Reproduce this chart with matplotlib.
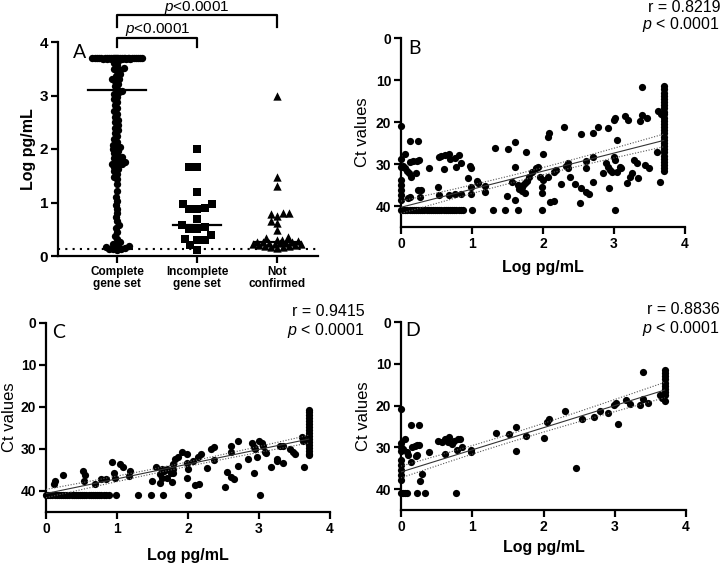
import numpy as np
import matplotlib
matplotlib.use('Agg')
import matplotlib.pyplot as plt

plt.rcParams['font.family'] = ['Liberation Sans', 'DejaVu Sans']
plt.rcParams['axes.labelweight'] = 'bold'
plt.rcParams['mathtext.fontset'] = 'custom'
plt.rcParams['mathtext.it'] = 'Liberation Sans:italic'
plt.rcParams['mathtext.rm'] = 'Liberation Sans'

# ---------------- panel A: Log pg/mL by gene set group ----------------
groups = ['Complete\ngene set', 'Incomplete\ngene set', 'Not\nconfirmed']
complete_set = [3.7, 3.7, 3.7, 3.7, 3.7, 3.7, 3.7, 3.7, 3.7, 3.7, 3.7, 3.7,
                3.7, 3.7, 3.7, 3.7, 3.7, 3.7, 3.7, 3.7, 3.7, 3.7, 3.7, 3.7,
                3.69, 3.69, 3.69, 3.69, 3.71, 3.71, 3.71, 3.68, 3.68, 3.68,
                3.64, 3.6, 3.57, 3.52, 3.5, 3.48, 3.45, 3.4, 3.36, 3.31,
                3.3, 3.27, 3.22, 3.18, 3.12, 3.08, 3.05, 3.03, 2.98, 2.93,
                2.88, 2.82, 2.76, 2.71, 2.66, 2.6, 2.55, 2.5, 2.45, 2.4,
                2.35, 2.3, 2.24, 2.19, 2.14, 2.08, 2.05, 2.03, 2.0, 1.97,
                1.93, 1.88, 1.85, 1.83, 1.8, 1.76, 1.75, 1.72, 1.72, 1.7,
                1.66, 1.62, 1.58, 1.53, 1.48, 1.44,
                1.34, 1.22, 1.1, 1.03, 0.95, 0.88, 0.8, 0.72, 0.65, 0.58,
                0.52, 0.45, 0.38, 0.32,
                0.26, 0.22, 0.2, 0.18, 0.17, 0.15, 0.14, 0.13, 0.13, 0.12]
incomplete_set = [2.0, 1.66, 1.66, 1.2, 0.98, 0.98, 0.88, 0.9, 0.88, 0.7,
                  0.58, 0.55, 0.5, 0.5, 0.4, 0.32, 0.3, 0.3, 0.2, 0.12]
not_confirmed = [3.0, 1.47, 1.3, 0.8, 0.8, 0.78, 0.75, 0.65, 0.62, 0.48,
                 0.35, 0.33, 0.3, 0.3, 0.28, 0.27, 0.27, 0.26, 0.25, 0.25,
                 0.24, 0.23, 0.22, 0.22, 0.2, 0.2, 0.19, 0.18, 0.17, 0.16, 0.15]
medians = [3.1, 0.58, 0.27]
detection_limit = 0.13
p_label = '$p$<0.0001'

# ---------------- panel B: all samples ----------------
b_x = [0, 0.13, 0.24, 0, 0.06, 0.13, 0.17, 0.22, 0.25,
       0, 0.03, 0.06, 0.08, 0.11, 0.14, 0.21, 0.39,
       0, 0, 0, 0, 0, 0.13, 0.1, 0.24, 0.28, 0.27,
       0.53, 0.57, 0.62, 0.67, 0.69, 0.76, 0.82,
       0.61, 0.77, 0.85, 0.97, 0.99, 0.94, 1.07, 1.09, 1.18, 1.19,
       0.52, 0.53, 0.67, 0.76, 0.85, 0.99, 0.99,
       1.32, 1.51, 1.61, 1.76, 1.61, 1.56, 1.49, 1.61,
       1.65, 1.7, 1.72, 1.75, 1.78, 1.8, 1.85, 1.9, 1.66, 1.7, 1.75,
       1.93, 1.98, 1.98, 2.0,
       2.07, 2.08, 2.3, 2.53, 2.71, 2.78, 2.92, 3.0, 3.01, 3.04,
       3.16, 3.2, 3.37, 3.4, 3.47, 3.4, 3.62, 3.66, 3.6, 3.65,
       1.96, 2.0, 2.07, 2.15, 2.18, 2.26, 2.33, 2.35, 2.38, 2.35,
       2.45, 2.54, 2.6, 2.65, 2.1, 2.15, 2.52, 2.6, 2.6, 2.71, 2.71,
       2.85, 2.89, 2.92, 2.94, 2.97, 2.93, 3.0, 3.02, 3.04, 3.08, 3.1,
       3.18, 3.23, 3.25, 3.28, 3.33, 3.34, 3.44, 3.49]
b_ct = [21, 24.5, 24.5, 28.7, 27.7, 29.5, 29.3, 29.2, 29,
        30.6, 30.4, 31, 31.6, 32.2, 33.2, 32.1, 30.9,
        33.8, 35, 36.2, 37.4, 38.6, 37.8, 38.2, 36.2, 36.2, 37.8,
        28.3, 28.1, 27.9, 27.6, 28.7, 28.5, 27.9,
        31.3, 30.6, 29.8, 30.4, 30.9, 33.3, 34.1, 34.6, 35.2, 36.6,
        35.4, 37.4, 37.4, 37.1, 37.1, 37.1, 35.4,
        26.3, 26.5, 24.8, 27.1, 30.6, 34.2, 37.6, 38.6,
        35, 35.5, 35, 34.5, 34, 33, 32, 31, 36, 36.5, 37,
        30.8, 35.5, 37, 27.5,
        23.5, 22.7, 21.1, 22.9, 22.5, 21.1, 21.5, 19.5, 19.1, 24.3,
        18.6, 19.5, 19.7, 18.4, 19.1, 11.7, 17.4, 18, 27.1, 34.2,
        33, 33.8, 33, 31.8, 31.4, 34.8, 30.5, 29.8, 33, 31,
        34.8, 35.6, 36.6, 37.1, 39, 38.8, 39.4, 31.0, 29.4, 28.4, 34.2,
        32.1, 29.7, 30.6, 31.4, 31.8, 35.8, 28.3, 29, 31.8, 30.6, 31,
        34.6, 33, 32.2, 29, 29.8, 33.4, 30.2, 31]
b_floor_x = [0, 0.03, 0.06, 0.09, 0.12, 0.15, 0.18, 0.21, 0.24, 0.27, 0.3,
             0.33, 0.36, 0.39, 0.42, 0.45, 0.48, 0.51, 0.54, 0.57, 0.6,
             0.63, 0.66, 0.69, 0.72, 0.75, 0.78, 0.81, 0.84, 0.88, 1.0,
             1.3, 1.47, 1.65, 1.98, 3.02]
b_top_ct = [11.5, 12.2, 13, 13.7, 14.5, 15.2, 16, 16.7, 17.5, 18.2, 19,
            19.7, 20.5, 21.2, 22, 22.7, 23.5, 24.2, 25, 25.7, 26.5, 27.2,
            28, 28.7, 29.5, 30.2, 31, 31.7]

# ---------------- panel C ----------------
c_x = [0.11, 0.13, 0.24, 0.52, 0.53, 0.55, 0.69, 0.78, 0.85,
       0.93, 0.96, 0.97, 1.04, 1.08, 1.18, 1.17, 1.49, 1.55,
       1.6, 1.63, 1.66, 1.7, 1.74, 1.76, 1.79, 1.79, 1.82, 1.86, 1.92,
       1.61, 1.64, 1.7, 1.77, 1.79, 1.98, 1.98, 2.0,
       1.98, 2.07, 2.14, 2.18, 2.27, 2.32, 2.36, 2.37, 2.1, 2.15, 2.52,
       2.55, 2.61, 2.65, 2.61, 2.61, 2.7, 2.71, 2.85, 2.9, 2.93, 2.95, 2.97, 2.93,
       3.0, 3.04, 3.05, 3.08, 3.1, 3.17, 3.25, 3.26, 3.29, 3.34, 3.34,
       3.43, 3.48, 3.5, 3.6, 3.62, 3.64]
c_ct = [38.3, 37.5, 36.2, 35.2, 37.5, 36.2, 38.3, 37.2, 37.2,
        33.2, 35.6, 37, 33.6, 34.4, 35.2, 36.4, 37.5, 34.2,
        35.9, 34.8, 35.2, 34.8, 35.2, 35.6, 34.8, 33.6, 32.4, 31.8, 30.7,
        38.2, 37, 37, 37.8, 35.7, 33.4, 36.8, 34.8,
        31.2, 32.8, 32, 31.2, 34.6, 30.0, 29.6, 32.6, 38.6, 38.3, 39.1,
        35.4, 36.7, 37.2, 29.4, 30.8, 28, 34, 32.4, 28.6, 29.6, 30, 31.8, 35.7,
        28, 28.6, 29.4, 30.6, 31, 34.4, 32.4, 32.8, 29.2, 29.4, 33.3,
        30, 30.8, 31.2, 27.2, 28, 34.2]
c_floor_x = [0, 0.03, 0.06, 0.09, 0.12, 0.15, 0.18, 0.21, 0.24, 0.27, 0.3,
             0.33, 0.36, 0.39, 0.42, 0.45, 0.48, 0.51, 0.54, 0.57, 0.6,
             0.63, 0.66, 0.69, 0.72, 0.75, 0.78, 0.81, 0.85, 0.89, 0.99,
             1.3, 1.48, 1.65, 2.0, 3.02]
c_top_ct = [20.6, 21.3, 22, 22.7, 23.4, 24.1, 24.8, 25.5, 26.2, 26.9, 27.6,
            28.3, 29, 29.7, 30.4, 31.1, 31.5]

# ---------------- panel D ----------------
d_x = [0, 0.14, 0.25, 0, 0.06, 0, 0, 0.03, 0.08, 0.1, 0.14,
       0.15, 0.19, 0.22, 0.25, 0.21, 0.23, 0.39,
       0, 0, 0, 0, 0, 0.29, 0.27,
       0.52, 0.57, 0.62, 0.66, 0.68, 0.71, 0.75, 0.8, 0.83,
       0.62, 0.78, 0.85, 0.98, 0.98,
       1.33, 1.52, 1.61, 1.75, 1.61, 2.0,
       2.05, 2.08, 2.3, 2.54, 2.71, 2.79, 2.91, 2.99, 3.02, 3.04,
       3.16, 3.21, 3.36, 3.4, 3.47, 3.4, 3.63, 3.67, 3.7, 2.45]
d_ct = [20.9, 24.7, 24.7, 28.9, 27.9, 29.9, 30.8, 30.3, 31.1, 31.9, 33.5,
        29.9, 29.7, 29.5, 29.4, 32.1, 31.9, 31.1,
        33.1, 34.3, 35.4, 36.6, 37.8, 36.4, 38.1,
        28.5, 28.7, 28.0, 28.7, 27.6, 29.1, 28.5, 28.1, 27.9,
        31.6, 30.7, 30.0, 30.7, 31.1,
        26.5, 26.7, 25.1, 27.2, 30.8, 27.8,
        23.9, 23.1, 21.2, 23.1, 22.7, 21.2, 21.7, 19.9, 19.3, 24.4,
        18.7, 19.6, 19.9, 18.5, 19.3, 11.9, 17.5, 18.3, 18.9, 34.9]
d_floor_x = [0, 0.03, 0.06, 0.09, 0.22, 0.34, 0.77]
d_top_ct = [11.5, 12.2, 13, 13.7, 14.5, 15.2, 16, 16.7, 17.4]

floor_ct = 41
top_x = 3.7
# (intercept, slope) of the fitted lines
fits = {'B': (40.3, -4.3), 'C': (40.6, -3.5), 'D': (35.9, -5.3)}
stats = {'B': ('0.8219', '< 0.0001'), 'C': ('0.9415', '< 0.0001'),
         'D': ('0.8836', '< 0.0001')}

W, H = 722, 563


def rect(left, right, top, bottom):
    return [left / W, (H - bottom) / H, (right - left) / W, (bottom - top) / H]


def swarm_offsets(values, px_y, px_x, diam, max_half):
    vals = np.asarray(values, float)
    offs = np.zeros(len(vals))
    cand = np.arange(-max_half, max_half + 0.25, 0.5)
    cand = cand[np.argsort(np.abs(cand), kind='stable')]
    placed = []
    for i in np.argsort(vals, kind='stable'):
        y = vals[i] * px_y
        near = [p for p in placed if abs(p[1] - y) < diam]
        if not near:
            x = 0.0
        else:
            P = np.array(near)
            d = np.sqrt((cand[:, None] - P[None, :, 0]) ** 2 +
                        (y - P[None, :, 1]) ** 2).min(axis=1)
            ok = np.where(d >= diam)[0]
            x = cand[ok[0]] if len(ok) else cand[np.argmax(d)]
        placed.append((x, y))
        offs[i] = x / px_x
    return offs


def style_axes(ax, fs):
    for s in ['top', 'right']:
        ax.spines[s].set_visible(False)
    for s in ['left', 'bottom']:
        ax.spines[s].set_linewidth(1.6)
    ax.tick_params(width=1.6, length=5, labelsize=fs, pad=2)


fig = plt.figure(figsize=(W / 100, H / 100), dpi=100)

# ---- A ----
axA = fig.add_axes(rect(58, 318, 42, 256))
axA.set_xlim(-0.7375, 2.5125)
axA.set_ylim(0, 4)
px_y, px_x = 214 / 4, 80
# marker, size, swarm spacing (px), max half width (px)
markers = [('o', 28, 3.8, 25), ('s', 32, 8, 24), ('^', 36, 6, 24)]
for i, vals in enumerate([complete_set, incomplete_set, not_confirmed]):
    m, s, dm, mh = markers[i]
    offs = swarm_offsets(vals, px_y, px_x, dm, mh)
    axA.scatter(i + offs, vals, marker=m, s=s, color='black', lw=0,
                clip_on=False, zorder=3)
half_w = [0.36, 0.3, 0.29]
for i, med in enumerate(medians):
    axA.plot([i - half_w[i], i + half_w[i]], [med, med], color='black',
             lw=1.6, zorder=4)
axA.axhline(detection_limit, color='black', lw=1.5, ls=(0, (1, 2.5)), zorder=2)
axA.set_xticks(range(3))
axA.set_xticklabels(groups, linespacing=1.0)
axA.set_yticks([0, 1, 2, 3, 4])
axA.set_ylabel('Log pg/mL', fontsize=11.5, va='center')
axA.yaxis.set_label_coords(-0.115, 0.5)
style_axes(axA, 11)
axA.tick_params(axis='x', labelsize=8.5)
# significance brackets
for x0, x1, ybar, ytick, tx, ty in [(0, 2, 4.505, 4.28, 1.0, 4.64),
                                    (0, 1, 4.07, 3.9, 0.51, 4.24)]:
    axA.plot([x0, x0, x1, x1], [ytick, ybar, ybar, ytick], color='black',
             lw=1.6, clip_on=False)
    axA.text(tx, ty, p_label, ha='center', va='center', fontsize=11,
             clip_on=False)

# ---- B, C, D ----
panels = [
    ('B', rect(401, 685, 38, 227), b_x, b_ct, b_floor_x, b_top_ct,
     (720, 8, 25), -0.137, -0.212),
    ('C', rect(46, 330, 323, 512), c_x, c_ct, c_floor_x, c_top_ct,
     (365, 312, 330), -0.127, -0.228),
    ('D', rect(401, 686, 322, 510), d_x, d_ct, d_floor_x, d_top_ct,
     (720, 310, 328), -0.13, -0.197),
]
all_axes = [axA]
for name, r, px, py, fx, tc, (tx, ty1, ty2), ylx, xly in panels:
    ax = fig.add_axes(r)
    all_axes.append(ax)
    x = np.concatenate([px, fx, np.full(len(tc), top_x)])
    y = np.concatenate([py, np.full(len(fx), floor_ct), tc])
    ax.scatter(x, y, s=27, color='black', lw=0, clip_on=False, zorder=3)

    a, b = fits[name]
    xs = np.linspace(0, top_x, 120)
    n = len(x)
    resid = y - (a + b * x)
    s = np.sqrt((resid ** 2).sum() / (n - 2))
    sxx = ((x - x.mean()) ** 2).sum()
    hw = 1.97 * s * np.sqrt(1 / n + (xs - x.mean()) ** 2 / sxx)
    line = a + b * xs
    ax.plot(xs, line, color='#333333', lw=0.8, zorder=4)
    ax.plot(xs, line - hw, color='#555555', lw=0.8, ls=(0, (1, 1.5)), zorder=4)
    ax.plot(xs, line + hw, color='#555555', lw=0.8, ls=(0, (1, 1.5)), zorder=4)

    ax.set_xlim(0, 4)
    ax.set_ylim(45, 0)
    ax.set_xticks([0, 1, 2, 3, 4])
    ax.set_yticks([0, 10, 20, 30, 40])
    ax.set_xlabel('Log pg/mL', fontsize=11.5, va='center')
    ax.xaxis.set_label_coords(0.5, xly)
    ax.set_ylabel('Ct values', fontsize=12, fontweight='normal', va='center')
    ax.yaxis.set_label_coords(ylx, 0.5)
    style_axes(ax, 10)

    rv, pv = stats[name]
    fig.text(tx / W, 1 - ty1 / H, 'r = ' + rv, ha='right', va='center',
             fontsize=11.5)
    fig.text(tx / W, 1 - ty2 / H, '$p$ ' + pv, ha='right', va='center',
             fontsize=11.5)

# bold tick labels everywhere
for ax in all_axes:
    for lab in ax.get_xticklabels() + ax.get_yticklabels():
        lab.set_fontweight('bold')

# panel letters
for letter, lx, ly in [('A', 73, 53), ('B', 408, 48), ('C', 52, 332),
                       ('D', 405, 330)]:
    fig.text(lx / W, 1 - ly / H, letter, ha='left', va='center',
             fontsize=14, family='Lato')

fig.savefig('out.png', dpi=100)
